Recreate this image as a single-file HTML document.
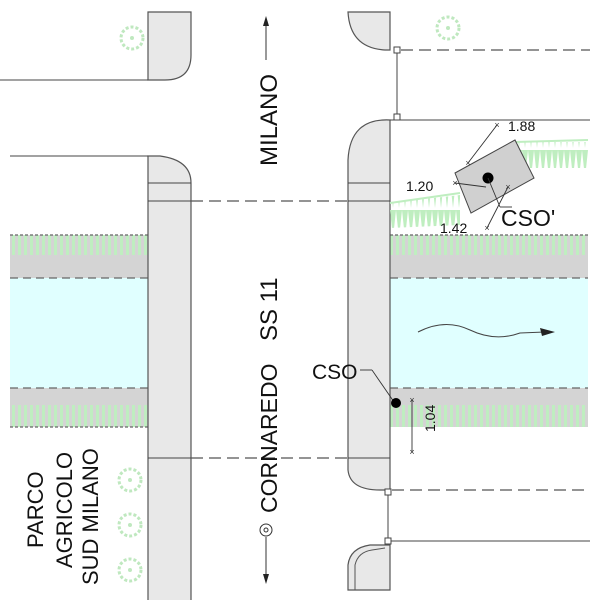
<!DOCTYPE html>
<html><head><meta charset="utf-8"><style>
html,body{margin:0;padding:0;background:#fff;}
svg{display:block;font-family:"Liberation Sans",Arial,sans-serif;}
</style></head><body>
<svg width="600" height="600" viewBox="0 0 600 600" xmlns="http://www.w3.org/2000/svg">
<defs>
<pattern id="hatch" width="6" height="10" patternUnits="userSpaceOnUse">
<rect width="6" height="10" fill="#d4d4d4"/><rect x="0" width="3" height="10" fill="#bfeec0"/>
</pattern>
<pattern id="spikes" width="6" height="30" patternUnits="userSpaceOnUse">
<polygon points="0,0 6,0 3,28" fill="#bfeec0"/>
</pattern>
<g id="tree"><circle r="11" fill="none" stroke="#bfe8bf" stroke-width="3" stroke-dasharray="3 2"/><circle r="2" fill="#bfe8bf"/></g>
</defs>
<rect width="600" height="600" fill="#fff"/>
<rect x="10" y="235" width="138" height="43" fill="#d4d4d4"/>
<rect x="10" y="235" width="138" height="20" fill="url(#hatch)"/>
<rect x="10" y="278" width="138" height="110" fill="#e0ffff"/>
<rect x="10" y="388" width="138" height="39" fill="#d4d4d4"/>
<rect x="10" y="405" width="138" height="22" fill="url(#hatch)"/>
<rect x="390" y="235" width="198" height="43" fill="#d4d4d4"/>
<rect x="390" y="235" width="198" height="20" fill="url(#hatch)"/>
<rect x="390" y="278" width="198" height="110" fill="#e0ffff"/>
<rect x="390" y="388" width="198" height="39" fill="#d4d4d4"/>
<rect x="390" y="405" width="198" height="22" fill="url(#hatch)"/>
<g stroke="#666" stroke-width="1.2" stroke-dasharray="8 5" fill="none">
<line x1="10" y1="235" x2="148" y2="235" stroke-dasharray="3 2"/>
<line x1="10" y1="278" x2="148" y2="278"/>
<line x1="10" y1="388" x2="148" y2="388"/>
<line x1="10" y1="427" x2="148" y2="427" stroke-dasharray="3 2"/>
<line x1="390" y1="235" x2="588" y2="235" stroke-dasharray="3 2"/>
<line x1="390" y1="278" x2="588" y2="278"/>
<line x1="390" y1="388" x2="588" y2="388"/>
</g>
<g stroke="#555" stroke-width="1.2" fill="#e8e8e8">
<path d="M148,12 L191,12 L191,55 Q191,80 165,80 L148,80 Z"/>
<path d="M148,600 L148,156 L160,156 Q191,160 191,183 L191,600"/>
<path d="M390,12 L348,12 Q350,48 385,50 L390,50 Z"/>
<path d="M390,120 Q350,118 348,160 L348,470 Q350,490 380,490 L390,490 Z"/>
<path d="M390,545 L370,545 Q350,548 348,565 L348,590 L390,590 Z"/>
</g>
<path d="M355,590 L355,565 Q358,552 372,550 L385,548" stroke="#555" fill="none"/>
<g stroke="#444" stroke-width="1" fill="none">
<line x1="0" y1="80" x2="148" y2="80"/>
<line x1="10" y1="156" x2="148" y2="156"/>
<line x1="148" y1="183" x2="191" y2="183"/>
<line x1="148" y1="201" x2="191" y2="201"/>
<line x1="148" y1="458" x2="191" y2="458"/>
<line x1="348" y1="183" x2="390" y2="183"/>
<line x1="348" y1="201" x2="390" y2="201"/>
<line x1="348" y1="458" x2="390" y2="458"/>
<line x1="390" y1="120" x2="590" y2="120"/>
<line x1="390" y1="541" x2="590" y2="541"/>
<line x1="397" y1="53" x2="397" y2="116"/>
<line x1="388" y1="495" x2="388" y2="538"/>
</g>
<g stroke="#555" stroke-width="1.2" stroke-dasharray="12 6" fill="none">
<line x1="191" y1="201" x2="348" y2="201"/>
<line x1="191" y1="458" x2="348" y2="458"/>
<line x1="401" y1="50" x2="590" y2="50"/>
<line x1="392" y1="490" x2="590" y2="490"/>
</g>
<g fill="#fff" stroke="#444">
<rect x="394" y="47" width="6" height="6"/><rect x="394" y="114" width="6" height="6"/>
<rect x="385" y="489" width="6" height="6"/><rect x="385" y="538" width="6" height="6"/>
</g>
<path d="M390,203 L460,195 L460,225 L390,228 Z" fill="url(#spikes)"/>
<line x1="390" y1="203" x2="460" y2="193" stroke="#bfeec0" stroke-width="2"/>
<path d="M515,142 L588,142 L588,168 L515,168 Z" fill="url(#spikes)"/>
<line x1="515" y1="142" x2="588" y2="140" stroke="#bfeec0" stroke-width="2"/>
<polygon points="455,173 515,140 534,178 471,213" fill="#d0d0d0" stroke="#444"/>
<circle cx="488" cy="178" r="5.5" fill="#000"/>
<g stroke="#333" stroke-width="0.9" fill="none">
<line x1="468" y1="163" x2="497" y2="125"/>
<line x1="455" y1="183" x2="486" y2="187"/>
<line x1="508" y1="187" x2="487" y2="228"/>
<line x1="488" y1="178" x2="500" y2="207"/><line x1="500" y1="207" x2="512" y2="207"/>
<line x1="360" y1="370" x2="372" y2="370"/><line x1="372" y1="370" x2="394" y2="402"/>
<line x1="412" y1="400" x2="412" y2="452"/>
</g>
<g font-size="9" fill="#333" text-anchor="middle">
<text x="497" y="128">×</text><text x="468" y="166">×</text><text x="455" y="186">×</text>
<text x="508" y="190">×</text><text x="487" y="231">×</text>
<text x="412" y="403">×</text><text x="412" y="455">×</text>
</g>
<circle cx="396" cy="403" r="5" fill="#000"/>
<g font-size="14" fill="#111">
<text x="508" y="131">1.88</text><text x="406" y="191">1.20</text><text x="440" y="233">1.42</text>
<text transform="translate(435,432) rotate(-90)">1.04</text>
</g>
<text x="501" y="226" font-size="23" fill="#111">CSO'</text>
<text x="312" y="379" font-size="21" fill="#111">CSO</text>
<path d="M418,332 Q445,318 470,330 Q495,342 520,333 L545,332" stroke="#444" fill="none"/>
<polygon points="555,332 540,328 542,336" fill="#222"/>
<g font-size="24" fill="#111">
<text transform="translate(277,166) rotate(-90)">MILANO</text>
<text transform="translate(277,341) rotate(-90)">SS 11</text>
</g>
<text transform="translate(277,513) rotate(-90)" font-size="23" fill="#111">CORNAREDO</text>
<g font-size="22" fill="#111">
<text transform="translate(43,548) rotate(-90)">PARCO</text>
<text transform="translate(72,568) rotate(-90)">AGRICOLO</text>
<text transform="translate(98,585) rotate(-90)">SUD MILANO</text>
</g>
<line x1="266" y1="60" x2="266" y2="20" stroke="#333"/><polygon points="266,16 263,26 269,26" fill="#222"/>
<circle cx="266" cy="530" r="6" fill="none" stroke="#333"/><circle cx="266" cy="530" r="2" fill="none" stroke="#333"/>
<line x1="266" y1="537" x2="266" y2="580" stroke="#333"/><polygon points="266,584 263,574 269,574" fill="#222"/>
<use href="#tree" x="132" y="38"/><use href="#tree" x="448" y="28"/>
<use href="#tree" x="130" y="480"/><use href="#tree" x="130" y="525"/><use href="#tree" x="130" y="570"/>
</svg>
</body></html>
